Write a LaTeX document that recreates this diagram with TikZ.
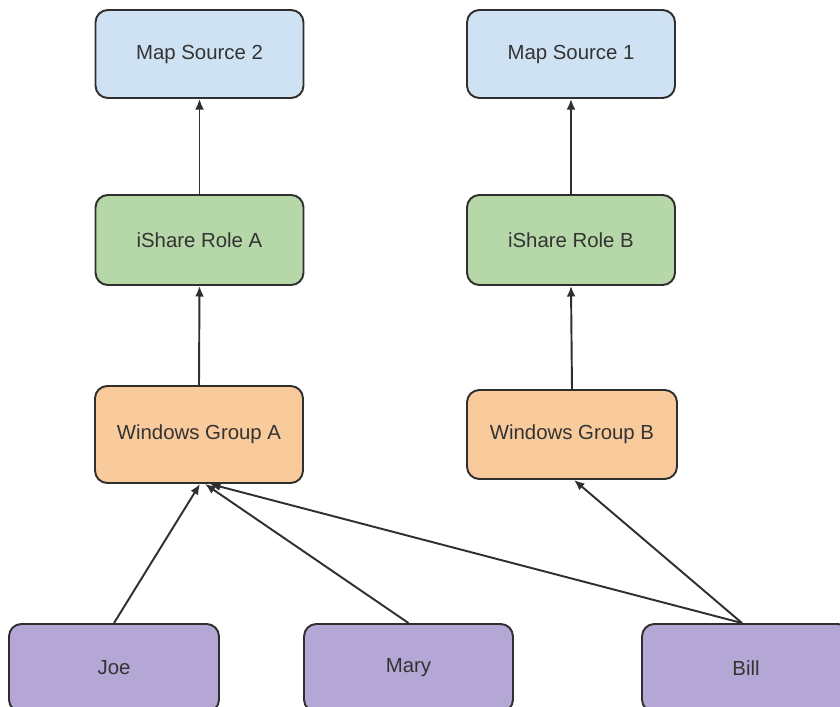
\documentclass[tikz,border=0pt]{standalone}
\usepackage{fontspec}
\setmainfont{Liberation Sans}
\usetikzlibrary{arrows.meta}
\definecolor{txt}{HTML}{333333}
\definecolor{edge}{HTML}{2F2F2F}
\definecolor{cblue}{HTML}{CFE2F3}
\definecolor{cgreen}{HTML}{B6D7A8}
\definecolor{corange}{HTML}{F9CB9C}
\definecolor{cpurple}{HTML}{B4A7D6}
\tikzset{
  box/.style={draw=edge, line width=1.1pt, rounded corners=7pt, minimum width=4.16cm, minimum height=1.76cm, inner sep=0pt, text=txt, font=\fontsize{11.6}{14}\selectfont},
  arr/.style={draw=edge, line width=1.1pt, -{Latex[length=6pt,width=5pt]}}
}
\begin{document}
\begin{tikzpicture}[x=0.02cm,y=-0.02cm]
\useasboundingbox (0,0) rectangle (840,707);
\clip (0,0) rectangle (840,707);
\node[box, fill=cblue] (ms2) at (199.5,54) {Map Source 2};
\node[box, fill=cblue] (ms1) at (571,54) {Map Source 1};
\node[box, fill=cgreen, minimum height=1.8cm] (ra) at (199.5,240) {iShare Role A};
\node[box, fill=cgreen, minimum height=1.8cm] (rb) at (571,240) {iShare Role B};
\node[box, fill=corange, minimum height=1.94cm] (wga) at (199,434.5) {Windows Group A};
\node[box, fill=corange, minimum width=4.2cm, minimum height=1.78cm] (wgb) at (572,434.5) {Windows Group B};
\node[box, fill=cpurple, minimum width=4.2cm] (joe) at (114,668) {Joe};
\node[box, fill=cpurple, minimum width=4.18cm] (mary) at (408.5,668) {Mary};
\node[box, fill=cpurple] (bill) at (746,668) {Bill};
\draw[arr] (ra.north) -- (ms2.south);
\draw[arr] (rb.north) -- (ms1.south);
\draw[arr] (wga.north) -- (ra.south);
\draw[arr] (wgb.north) -- (rb.south);
\draw[arr] (joe.north) -- ([xshift=0.02cm]wga.south);
\draw[arr] (mary.north) -- ([xshift=0.12cm]wga.south);
\draw[arr] ([xshift=-0.08cm]bill.north) -- ([xshift=0.22cm]wga.south);
\draw[arr] ([xshift=-0.08cm]bill.north) -- ([xshift=0.04cm]wgb.south);
\end{tikzpicture}
\end{document}
